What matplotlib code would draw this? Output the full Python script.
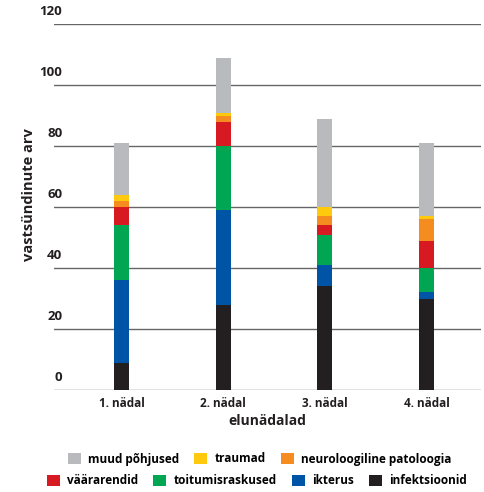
import matplotlib
matplotlib.use("Agg")
import matplotlib.pyplot as plt
import matplotlib.transforms as mtransforms
from matplotlib.patches import Patch
import numpy as np

plt.rcParams['font.family'] = ['Open Sans', 'DejaVu Sans']
plt.rcParams['font.weight'] = 'bold'

weeks = ["1. nädal", "2. nädal", "3. nädal", "4. nädal"]

# stacked from bottom to top
infektsioonid = [9, 28, 34, 30]
ikterus = [27, 31, 7, 2]
toitumisraskused = [18, 21, 10, 8]
vaararendid = [6, 8, 3, 9]
neuroloogiline = [2, 2, 3, 7]
traumad = [2, 1, 3, 1]
muud = [17, 18, 29, 24]

series = [
    ("infektsioonid", infektsioonid, "#231F20"),
    ("ikterus", ikterus, "#0054A6"),
    ("toitumisraskused", toitumisraskused, "#00A651"),
    ("väärarendid", vaararendid, "#D71921"),
    ("neuroloogiline patoloogia", neuroloogiline, "#F58C1F"),
    ("traumad", traumad, "#FFC90E"),
    ("muud põhjused", muud, "#B9BABE"),
]

yticks = [0, 20, 40, 60, 80, 100, 120]

fig = plt.figure(figsize=(4.84, 4.92), dpi=100)
ax = fig.add_axes([54 / 484, 1 - 390 / 492, 427 / 484, (390 - 24.3) / 492])

x = np.arange(len(weeks))
bottom = np.zeros(len(weeks))
handles = {}
for name, vals, color in series:
    ax.bar(x, vals, width=0.1475, bottom=bottom, color=color, zorder=3, linewidth=0)
    handles[name] = Patch(facecolor=color, edgecolor='none')
    bottom += np.array(vals)

ax.set_xlim(-0.664, 3.535)
ax.set_ylim(0, 120)
ax.set_yticks(yticks)
ax.set_yticklabels([str(v) for v in yticks], fontweight='bold')
ax.set_xticks(x)
ax.set_xticklabels(weeks, fontweight='bold')

for s in ax.spines.values():
    s.set_visible(False)
ax.yaxis.grid(True, color="#666666", linewidth=1.0, zorder=0)
ax.set_axisbelow(True)
ax.tick_params(axis='both', length=0)
ax.tick_params(axis='y', labelsize=9.5, pad=-6, colors="#231F20")
ax.tick_params(axis='x', labelsize=8.5, pad=5, colors="#231F20")

offset = mtransforms.ScaledTranslation(0, 14 / 100, fig.dpi_scale_trans)
for lbl in ax.get_yticklabels():
    lbl.set_transform(lbl.get_transform() + offset)

ax.set_xlabel("elunädalad", fontsize=10, fontweight='bold', labelpad=3, color="#231F20")
fig.text(29 / 484, 1 - 195 / 492, "vastsündinute arv", rotation=90, fontsize=10.5,
         fontweight='bold', ha='center', va='center', color="#231F20")

row1 = ["muud põhjused", "traumad", "neuroloogiline patoloogia"]
row2 = ["väärarendid", "toitumisraskused", "ikterus", "infektsioonid"]
common = dict(loc='center', frameon=False, handlelength=1.1, handleheight=1.1,
              handletextpad=0.6, columnspacing=1.3, borderpad=0, borderaxespad=0,
              prop={'size': 8.5, 'weight': 'bold'})
fig.legend([handles[n] for n in row1], row1, ncol=3,
           bbox_to_anchor=(259.5 / 484, 1 - 459 / 492), **common)
fig.legend([handles[n] for n in row2], row2, ncol=4,
           bbox_to_anchor=(257 / 484, 1 - 481 / 492), **common)

fig.savefig("out.png", dpi=100)
